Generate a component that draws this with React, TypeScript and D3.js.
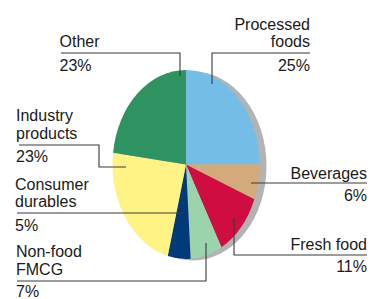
import React, { useEffect, useRef } from "react";
import * as d3 from "d3";

// data
const categories = [
  "Processed foods",
  "Beverages",
  "Fresh food",
  "Non-food FMCG",
  "Consumer durables",
  "Industry products",
  "Other",
];
const shares = [25, 6, 11, 7, 5, 23, 23];
const colors = ["#74bde6", "#d4aa7d", "#cf0d40", "#9bd3ad", "#003a78", "#fff385", "#2e9261"];

// label layout: text lines, anchor/alignment and leader polyline
type Label = { lines: string[]; x: number; ys: number[]; align: "start" | "end"; leader: [number, number][] };
const labels: Label[] = [
  { lines: ["Processed", "foods", "25%"], x: 310, ys: [30, 47, 71], align: "end", leader: [[310, 53], [212, 53], [212, 84]] },
  { lines: ["Beverages", "6%"], x: 367, ys: [178.5, 201], align: "end", leader: [[367, 183], [251, 183]] },
  { lines: ["Fresh food", "11%"], x: 367, ys: [249.5, 272], align: "end", leader: [[367, 255], [234, 255], [234, 218]] },
  { lines: ["Non-food", "FMCG", "7%"], x: 16, ys: [256.5, 275, 296.5], align: "start", leader: [[17, 281], [206, 281], [206, 243]] },
  { lines: ["Consumer", "durables", "5%"], x: 15, ys: [189.5, 207, 231], align: "start", leader: [[17, 213], [183, 213]] },
  { lines: ["Industry", "products", "23%"], x: 16, ys: [121, 138.5, 162], align: "start", leader: [[19, 145], [99, 145], [99, 167], [126, 167]] },
  { lines: ["Other", "23%"], x: 59.5, ys: [47, 70.5], align: "start", leader: [[61, 53], [180, 53], [180, 76]] },
];

const W = 378;
const H = 299;

export default function App() {
  const ref = useRef<SVGSVGElement | null>(null);

  useEffect(() => {
    const svg = d3.select(ref.current);
    svg.selectAll("*").remove();

    const cx = 186;
    const cy = 164.5;
    const rx = 73.5;
    const ry = 94.5;

    const pie = d3.pie<number>().sort(null).value((d) => d);
    const arcs = pie(shares);
    const arc = d3.arc<d3.PieArcDatum<number>>().innerRadius(0).outerRadius(rx);

    // shadow
    svg
      .append("ellipse")
      .attr("cx", cx + 7)
      .attr("cy", cy + 1.5)
      .attr("rx", rx)
      .attr("ry", ry)
      .attr("fill", "#b3b3b3");

    // slices
    svg
      .append("g")
      .attr("transform", `translate(${cx},${cy}) scale(1,${ry / rx})`)
      .selectAll("path")
      .data(arcs)
      .enter()
      .append("path")
      .attr("d", arc)
      .attr("fill", (_, i) => colors[i]);

    // leaders
    const line = d3.line();
    svg
      .append("g")
      .selectAll("path")
      .data(labels)
      .enter()
      .append("path")
      .attr("d", (d) => line(d.leader))
      .attr("fill", "none")
      .attr("stroke", "#3a3a3a")
      .attr("stroke-width", 1.1);

    // texts
    const g = svg.append("g").attr("font-family", "'Liberation Sans', Arial, sans-serif").attr("font-size", 16).attr("fill", "#1a1a1a");
    labels.forEach((l) => {
      l.lines.forEach((t, j) => {
        g.append("text").attr("x", l.x).attr("y", l.ys[j]).attr("text-anchor", l.align).text(t);
      });
    });
  }, []);

  return (
    <svg
      ref={ref}
      width={W}
      height={H}
      style={{ position: "absolute", left: 0, top: 0, background: "#fff" }}
      aria-label={categories.join(", ")}
    />
  );
}
